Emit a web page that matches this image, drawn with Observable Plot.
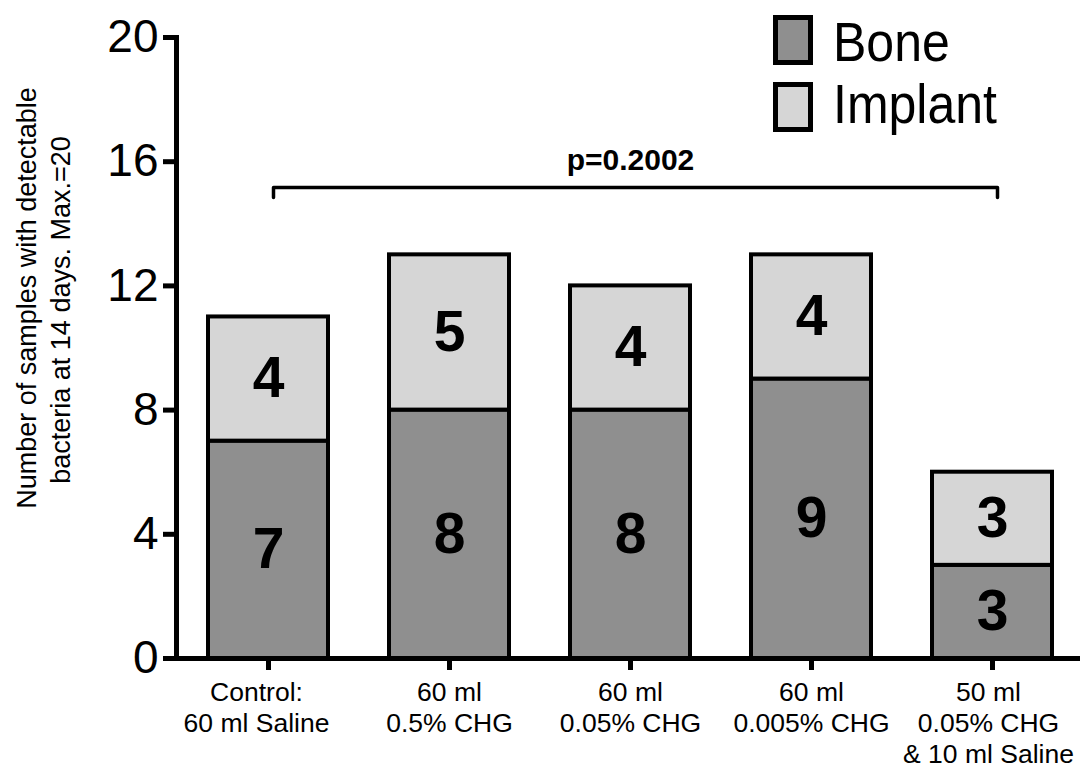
<!DOCTYPE html>
<html>
<head>
<meta charset="utf-8">
<script src="https://cdn.jsdelivr.net/npm/d3@7"></script>
<script src="https://cdn.jsdelivr.net/npm/@observablehq/plot@0.6"></script>
<style>
  html, body { margin: 0; padding: 0; background: #fff; }
  #chart { position: relative; width: 1080px; height: 767px; overflow: hidden;
           font-family: "Liberation Sans", Arial, Helvetica, sans-serif; color: #000; }
  #chart svg { position: absolute; left: 0; top: 0; }
  .sw { position: absolute; left: 773px; width: 40px; height: 50px; box-sizing: border-box; border: 5px solid #000; }
  .lab { position: absolute; left: 833px; font-size: 50px; line-height: 50px; white-space: nowrap;
         transform: scaleY(1.11); transform-origin: 0 42px; }
</style>
</head>
<body>
<div id="chart"></div>
<script>
// ---- data ----
const groups = [
  "Control:\n60 ml Saline",
  "60 ml\n0.5% CHG",
  "60 ml\n0.05% CHG",
  "60 ml\n0.005% CHG",
  "50 ml\n0.05% CHG\n& 10 ml Saline"
];
const series = ["Bone", "Implant"];
const boneCounts = [7, 8, 8, 9, 3];
const implantCounts = [4, 5, 4, 4, 3];
const seriesColors = ["#8f8f8f", "#d6d6d6"];
const yTicks = [0, 4, 8, 12, 16, 20];
const yTitleLines = ["Number of samples with detectable", "bacteria at 14 days. Max.=20"];
const pLabel = "p=0.2002";
const pFrom = groups[0], pTo = groups[4];
const pLevel = 15.17, pDrop = 0.32;

// ---- table ----
const rows = [];
series.forEach((s, si) => {
  const vals = si === 0 ? boneCounts : implantCounts;
  groups.forEach((g, i) => rows.push({group: g, type: s, count: vals[i]}));
});
const bracket = [
  {x: pFrom, y: pLevel - pDrop}, {x: pFrom, y: pLevel},
  {x: pTo, y: pLevel}, {x: pTo, y: pLevel - pDrop}
];

const tickText = {frameAnchor: "bottom", lineAnchor: "top", dy: 20, fontSize: 26.5, lineHeight: 1.17};

const plot = Plot.plot({
  width: 1080,
  height: 767,
  marginLeft: 176,
  marginRight: 0,
  marginTop: 37,
  marginBottom: 109,
  style: {fontFamily: '"Liberation Sans", Arial, Helvetica, sans-serif', color: "#000", background: "transparent"},
  x: {domain: groups, range: [176, 1085], paddingInner: 0.335, paddingOuter: 0.165, align: 0.5},
  y: {domain: [0, 20]},
  color: {domain: series, range: seriesColors},
  marks: [
    Plot.barY(rows, {x: "group", y: "count", fill: "type", stroke: "#000", strokeWidth: 4, order: series}),
    Plot.text(rows, Plot.stackY({x: "group", y: "count", z: "type", order: series,
      text: d => String(d.count), fontSize: 57, fontWeight: "bold", fill: "#000"})),
    Plot.ruleY([0], {stroke: "#000", strokeWidth: 5}),
    Plot.frame({anchor: "left", stroke: "#000", strokeWidth: 5}),
    Plot.axisY(yTicks, {tickSize: 13, tickPadding: 5, fontSize: 46, strokeWidth: 5, label: null}),
    Plot.axisX({tickSize: 12, strokeWidth: 5, tickFormat: () => "", label: null}),
    Plot.text(groups.slice(0, 1), {x: d => d, dx: -12, ...tickText}),
    Plot.text(groups.slice(1, 4), {x: d => d, ...tickText}),
    Plot.text(groups.slice(4), {x: d => d, dx: -4, ...tickText}),
    Plot.line(bracket, {x: "x", y: "y", stroke: "#000", strokeWidth: 3.5, dx: 5}),
    Plot.text([pLabel], {x: () => groups[2], y: () => pLevel, dy: -27, fontSize: 30, fontWeight: "bold"}),
    Plot.text([yTitleLines[0]], {frameAnchor: "left", textAnchor: "middle", rotate: -90, dx: -149, dy: -50, fontSize: 27}),
    Plot.text([yTitleLines[1]], {frameAnchor: "left", textAnchor: "middle", rotate: -90, dx: -115, dy: -38, fontSize: 27})
  ]
});

const chart = document.getElementById("chart");
chart.appendChild(plot);

// legend (HTML)
const legendTops = [15, 82];
const legendTextTops = [19, 81];
series.forEach((s, i) => {
  const sw = document.createElement("div");
  sw.className = "sw";
  sw.style.top = legendTops[i] + "px";
  sw.style.background = seriesColors[i];
  chart.appendChild(sw);
  const lab = document.createElement("div");
  lab.className = "lab";
  lab.style.top = legendTextTops[i] + "px";
  lab.textContent = s;
  chart.appendChild(lab);
});
</script>
</body>
</html>
